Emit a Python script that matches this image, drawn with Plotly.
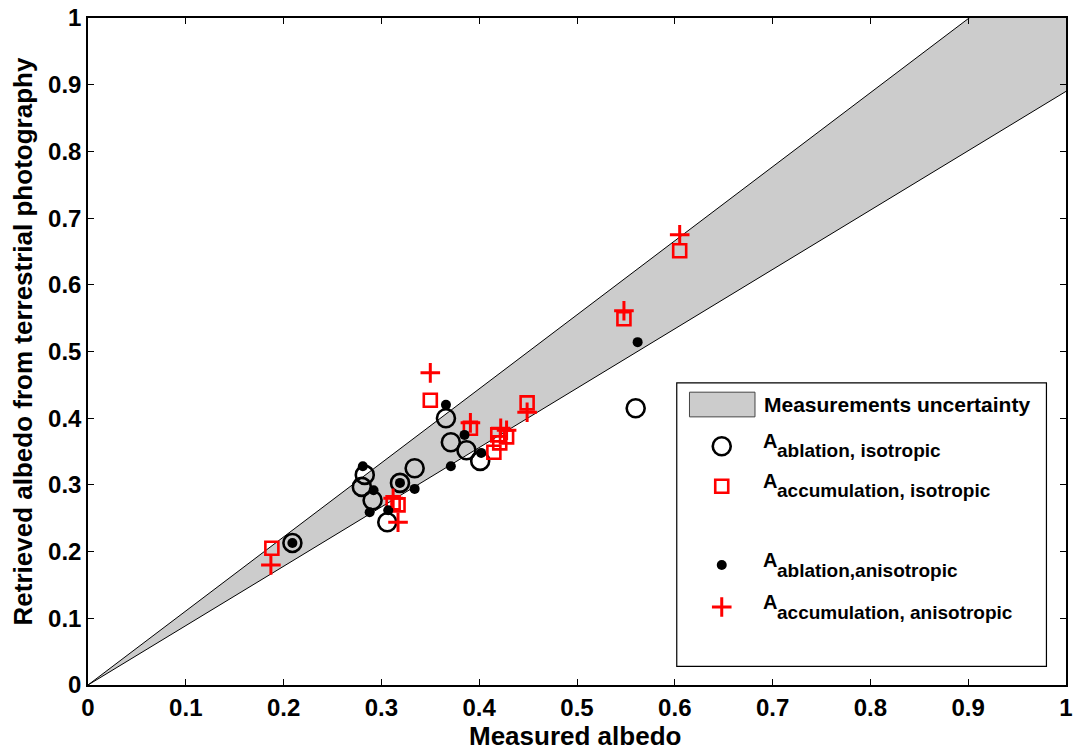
import plotly.graph_objects as go

# ---------------- data ----------------
abl_iso_x = [0.209, 0.280, 0.283, 0.291, 0.306, 0.319, 0.334, 0.366, 0.371, 0.387, 0.401, 0.560]
abl_iso_y = [0.213, 0.297, 0.315, 0.277, 0.244, 0.303, 0.325, 0.400, 0.364, 0.352, 0.336, 0.415]

acc_iso_x = [0.188, 0.312, 0.317, 0.350, 0.391, 0.415, 0.421, 0.419, 0.428, 0.449, 0.548, 0.605]
acc_iso_y = [0.205, 0.273, 0.270, 0.427, 0.385, 0.349, 0.363, 0.375, 0.372, 0.423, 0.549, 0.651]

abl_ani_x = [0.209, 0.281, 0.292, 0.288, 0.307, 0.319, 0.334, 0.366, 0.385, 0.371, 0.402, 0.562]
abl_ani_y = [0.213, 0.328, 0.292, 0.259, 0.262, 0.303, 0.294, 0.420, 0.375, 0.328, 0.348, 0.514]

acc_ani_x = [0.187, 0.312, 0.317, 0.350, 0.391, 0.422, 0.428, 0.449, 0.548, 0.605]
acc_ani_y = [0.180, 0.280, 0.244, 0.468, 0.393, 0.385, 0.382, 0.409, 0.561, 0.675]

band_x = [0.0, 1.0]
band_upper_slope = 1.11
band_lower_slope = 0.89

tick_vals = [0, 0.1, 0.2, 0.3, 0.4, 0.5, 0.6, 0.7, 0.8, 0.9, 1]
tick_text = ["0", "0.1", "0.2", "0.3", "0.4", "0.5", "0.6", "0.7", "0.8", "0.9", "1"]

x_title = "Measured albedo"
y_title = "Retrieved albedo from terrestrial photography"

legend_labels = ["Measurements uncertainty",
                 "ablation, isotropic",
                 "accumulation, isotropic",
                 "ablation,anisotropic",
                 "accumulation, anisotropic"]

# ---------------- styles ----------------
FONT = "Liberation Sans, Arial, Helvetica, sans-serif"
BAND = "#cccccc"
RED = "#ff0000"

m_circle = dict(symbol="circle-open", size=18, color="black", line=dict(width=2.6, color="black"))
m_square = dict(symbol="square-open", size=13, color=RED, line=dict(width=2.6, color=RED))
m_dot = dict(symbol="circle", size=10, color="black", line=dict(width=0))
m_plus = dict(symbol="cross-thin-open", size=14, color=RED, line=dict(width=3, color=RED))

fig = go.Figure()

# uncertainty band
fig.add_trace(go.Scatter(x=band_x, y=[v * band_lower_slope for v in band_x], mode="lines",
                         line=dict(color="black", width=1), showlegend=False, hoverinfo="skip"))
fig.add_trace(go.Scatter(x=band_x, y=[v * band_upper_slope for v in band_x], mode="lines",
                         line=dict(color="black", width=1), fill="tonexty", fillcolor=BAND,
                         showlegend=False, hoverinfo="skip"))

fig.add_trace(go.Scatter(x=abl_iso_x, y=abl_iso_y, mode="markers", marker=m_circle, showlegend=False))
fig.add_trace(go.Scatter(x=acc_iso_x, y=acc_iso_y, mode="markers", marker=m_square, showlegend=False))
fig.add_trace(go.Scatter(x=abl_ani_x, y=abl_ani_y, mode="markers", marker=m_dot, showlegend=False))
fig.add_trace(go.Scatter(x=acc_ani_x, y=acc_ani_y, mode="markers", marker=m_plus, showlegend=False))

# ---------------- custom legend (overlay axes in paper-like units) ----------------
sym_x = 0.648
sym_y = [0.358, 0.298, 0.180, 0.117]
for m, yy in zip([m_circle, m_square, m_dot, m_plus], sym_y):
    fig.add_trace(go.Scatter(x=[sym_x], y=[yy], mode="markers", marker=m, showlegend=False,
                             xaxis="x2", yaxis="y2", hoverinfo="skip"))

shapes = [
    dict(type="rect", xref="paper", yref="paper", x0=0.602, x1=0.980, y0=0.028, y1=0.453,
         line=dict(color="black", width=1.2), fillcolor="white", layer="below"),
    dict(type="rect", xref="paper", yref="paper", x0=0.615, x1=0.682, y0=0.402, y1=0.439,
         line=dict(color="#444444", width=1), fillcolor=BAND, layer="above"),
]

annotations = [
    dict(text=legend_labels[0], xref="paper", yref="paper", x=0.689, y=0.421,
         xanchor="left", yanchor="middle", showarrow=False,
         font=dict(family=FONT, size=21, color="black", weight="bold")),
    dict(text=x_title, xref="paper", yref="paper", x=0.498, y=-0.076,
         xanchor="center", yanchor="middle", showarrow=False,
         font=dict(family=FONT, size=26, color="black", weight="bold")),
    dict(text=y_title, xref="paper", yref="paper", x=-0.0655, y=0.515, textangle=-90,
         xanchor="center", yanchor="middle", showarrow=False,
         font=dict(family=FONT, size=26, color="black", weight="bold")),
]
a_y = [0.366, 0.306, 0.188, 0.125]
sub_y = [0.351, 0.291, 0.172, 0.109]
for lab, ay, sy in zip(legend_labels[1:], a_y, sub_y):
    annotations.append(dict(text="A", xref="paper", yref="paper", x=0.688, y=ay,
                            xanchor="left", yanchor="middle", showarrow=False,
                            font=dict(family=FONT, size=20, color="black", weight="bold")))
    annotations.append(dict(text=lab, xref="paper", yref="paper", x=0.702, y=sy,
                            xanchor="left", yanchor="middle", showarrow=False,
                            font=dict(family=FONT, size=19, color="black", weight="bold")))

axis_common = dict(
    range=[0, 1], tickvals=tick_vals, ticktext=tick_text,
    ticks="inside", ticklen=6, tickwidth=1, tickcolor="black",
    showline=True, linecolor="black", linewidth=1.5, mirror="ticks",
    showgrid=False, zeroline=False, automargin=False, ticklabeloverflow="allow",
    tickfont=dict(family=FONT, size=24, color="black", weight="bold"),
)

fig.update_layout(
    width=1075, height=751,
    margin=dict(l=88, r=9, t=18, b=66),
    paper_bgcolor="white", plot_bgcolor="white",
    xaxis=dict(**axis_common),
    yaxis=dict(**axis_common),
    xaxis2=dict(range=[0, 1], overlaying="x", visible=False, fixedrange=True),
    yaxis2=dict(range=[0, 1], overlaying="y", visible=False, fixedrange=True),
    shapes=shapes,
    annotations=annotations,
    showlegend=False,
)

# remove the default 8px page margin so the figure fills the 1075x751 window exactly
fig.write_html("out.html",
               config={"displayModeBar": False},
               post_script="document.body.style.margin='0';document.body.style.overflow='hidden';")
